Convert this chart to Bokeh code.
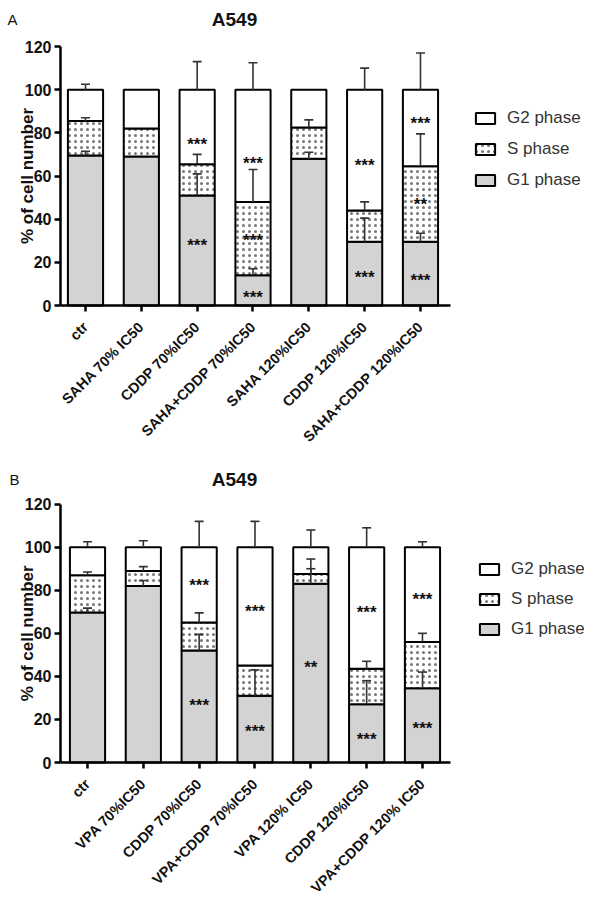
import math
from bokeh.plotting import figure
from bokeh.models import (ColumnDataSource, Range1d, Legend, LegendItem, Label, FixedTicker)
from bokeh.layouts import column
from bokeh.embed import file_html
from bokeh.resources import INLINE
from bokeh.core.properties import value

FONT = "Liberation Sans"

# ---------------- Panel A data ----------------
cats_a = ["ctr", "SAHA 70% IC50", "CDDP 70%IC50", "SAHA+CDDP 70%IC50",
          "SAHA 120%IC50", "CDDP 120%IC50", "SAHA+CDDP 120%IC50"]
g1_a = [69.5, 69, 51, 14, 68, 29.5, 29.5]
s_a = [16, 13, 14.5, 34, 14.5, 14.5, 35]
g2_a = [14.5, 18, 34.5, 52, 17.5, 56, 35.5]
g1_err_a = [2, 0, 10, 3, 3, 11, 4]
s_err_a = [1.5, 0, 4.5, 15, 3.5, 4, 15]
g2_err_a = [2.5, 0, 13, 12.5, 0, 10, 17]
star_bar_a = [2, 2, 3, 3, 3, 5, 5, 6, 6, 6]
star_txt_a = ["***", "***", "***", "***", "***", "***", "***", "***", "**", "***"]
star_y_a = [77, 30, 68, 32.5, 6, 67, 15.5, 86.5, 49, 14]

# ---------------- Panel B data ----------------
cats_b = ["ctr", "VPA 70%IC50", "CDDP 70%IC50", "VPA+CDDP 70%IC50",
          "VPA 120% IC50", "CDDP 120%IC50", "VPA+CDDP 120% IC50"]
g1_b = [69.7, 82, 52, 31, 83, 27, 34.5]
s_b = [17.3, 7, 13, 14, 4.5, 16.5, 21.5]
g2_b = [13, 11, 35, 55, 12.5, 56.5, 44]
g1_err_b = [2, 2.5, 7.5, 12, 7, 11, 7.5]
s_err_b = [1.5, 2, 4.5, 0, 7, 3.5, 4]
g2_err_b = [2.5, 3, 12, 12, 8, 9, 2.5]
star_bar_b = [2, 2, 3, 3, 4, 5, 5, 6, 6]
star_txt_b = ["***", "***", "***", "***", "**", "***", "***", "***", "***"]
star_y_b = [84.5, 29, 72.5, 16.5, 46.5, 72, 13, 78, 18]

y_ticks = [0, 20, 40, 60, 80, 100, 120]
legend_labels = ["G2 phase", "S phase", "G1 phase"]
chart_title = "A549"
y_title = "% of cell number"


def make_panel(letter, cats, g1, s, g2, e1, es, e2, sbar, stxt, sy, height,
               px_per_x, x0_px, px_per_y, leg_loc, leg_spacing, letter_px, title_y):
    zero_px = 305  # pixel row of y = 0, from the figure top
    y_top = zero_px / px_per_y
    y_bot = -(height - zero_px) / px_per_y
    x_lo = -x0_px / px_per_x
    x_hi = (584 - x0_px) / px_per_x
    p = figure(x_range=Range1d(x_lo, x_hi), y_range=Range1d(y_bot, y_top),
               width=584, height=height, output_backend="svg", toolbar_location=None,
               min_border_left=0, min_border_right=0, min_border_top=0,
               min_border_bottom=0)
    p.title.visible = False
    p.outline_line_color = None
    p.xgrid.grid_line_color = None
    p.ygrid.grid_line_color = None

    xs = list(range(len(cats)))
    s_top = [a + b for a, b in zip(g1, s)]
    g2_top = [a + b for a, b in zip(s_top, g2)]
    src = ColumnDataSource(dict(x=xs, g1=g1, s_top=s_top, g2_top=g2_top,
                                zero=[0] * len(cats)))
    w = 0.63
    r_g1 = p.vbar(x="x", bottom="zero", top="g1", width=w, source=src,
                  fill_color="#d3d3d3", line_color="black", line_width=2)
    r_s = p.vbar(x="x", bottom="g1", top="s_top", width=w, source=src,
                 fill_color="white", line_color="black", line_width=2,
                 hatch_pattern="dot", hatch_scale=6, hatch_weight=1.2,
                 hatch_color="#777777")
    r_g2 = p.vbar(x="x", bottom="s_top", top="g2_top", width=w, source=src,
                  fill_color="white", line_color="black", line_width=2)

    # error bars (upper only)
    ex, elo, ehi = [], [], []
    for tops, errs in ((g1, e1), (s_top, es), (g2_top, e2)):
        for xi, t, e in zip(xs, tops, errs):
            if e > 0:
                ex.append(xi); elo.append(t); ehi.append(t + e)
    esrc = ColumnDataSource(dict(x=ex, lo=elo, hi=ehi))
    p.segment(x0="x", y0="lo", x1="x", y1="hi", source=esrc,
              line_color="#333333", line_width=1.6)
    p.scatter(x="x", y="hi", source=esrc, marker="dash", size=9,
              line_color="#333333", line_width=1.6)

    # significance stars
    tsrc = ColumnDataSource(dict(x=sbar, y=sy, t=stxt))
    p.text(x="x", y="y", text="t", source=tsrc, text_align="center",
           text_baseline="middle", text_font=value(FONT), text_font_style="bold",
           text_font_size="17px", text_color="#111111", y_offset=5)

    axis_x = (60 - x0_px) / px_per_x
    # axes
    p.yaxis.ticker = FixedTicker(ticks=y_ticks)
    p.yaxis.fixed_location = axis_x
    p.yaxis.bounds = (0, 120)
    p.xaxis.ticker = FixedTicker(ticks=xs)
    p.xaxis.fixed_location = 0
    p.xaxis.bounds = (axis_x, (450 - x0_px) / px_per_x)
    overrides = {}
    for i, c in enumerate(cats):
        overrides[i] = c
        overrides[str(i)] = c
    p.xaxis.major_label_overrides = overrides
    for ax in (p.xaxis[0], p.yaxis[0]):
        ax.axis_line_width = 2.5
        ax.axis_line_color = "black"
        ax.major_tick_line_width = 2.5
        ax.major_tick_line_color = "black"
        ax.major_tick_out = 6
        ax.major_tick_in = 0
        ax.minor_tick_line_color = None
        ax.major_label_text_font = FONT
        ax.major_label_text_font_style = "bold"
        ax.major_label_text_color = "#111111"
    p.yaxis.major_label_text_font_size = "16px"
    p.yaxis.major_label_standoff = 3
    p.xaxis.major_label_orientation = math.pi / 4
    p.xaxis.major_label_text_font_size = "14.5px"
    p.xaxis.major_label_standoff = 13

    # y-axis title, chart title and panel letter (inside the frame area)
    p.add_layout(Label(x=(27 - x0_px) / px_per_x, y=60, text=y_title, angle=math.pi / 2,
                       text_font=FONT, text_font_size="17px", text_font_style="bold",
                       text_color="#111111", text_align="center",
                       text_baseline="middle"))
    p.add_layout(Label(x=(234 - x0_px) / px_per_x, y=title_y, text=chart_title,
                       text_font=FONT, text_font_size="19px", text_font_style="bold",
                       text_color="#111111", text_align="center",
                       text_baseline="middle"))
    p.add_layout(Label(x=(letter_px - x0_px) / px_per_x, y=title_y, text=letter,
                       text_font=FONT, text_font_size="15px",
                       text_color="#111111", text_align="left",
                       text_baseline="middle"))

    legend = Legend(items=[LegendItem(label=legend_labels[0], renderers=[r_g2]),
                           LegendItem(label=legend_labels[1], renderers=[r_s]),
                           LegendItem(label=legend_labels[2], renderers=[r_g1])],
                    location=leg_loc, padding=0, margin=0, spacing=leg_spacing,
                    glyph_width=24, glyph_height=14, label_standoff=10,
                    label_height=20,
                    label_text_font=FONT, label_text_font_size="17px",
                    label_text_color="#333333",
                    border_line_color=None, background_fill_alpha=0)
    p.add_layout(legend)
    return p


pa = make_panel("A", cats_a, g1_a, s_a, g2_a, g1_err_a, s_err_a, g2_err_a,
                star_bar_a, star_txt_a, star_y_a, 457,
                55.83, 85, 2.1583, (473, 267), 11, 7, 132.5)
pb = make_panel("B", cats_b, g1_b, s_b, g2_b, g1_err_b, s_err_b, g2_err_b,
                star_bar_b, star_txt_b, star_y_b, 437,
                55.83, 87, 2.153, (477, 255), 10, 9, 131.5)

layout = column(pa, pb)
open("out.html", "w").write(file_html(layout, INLINE))
